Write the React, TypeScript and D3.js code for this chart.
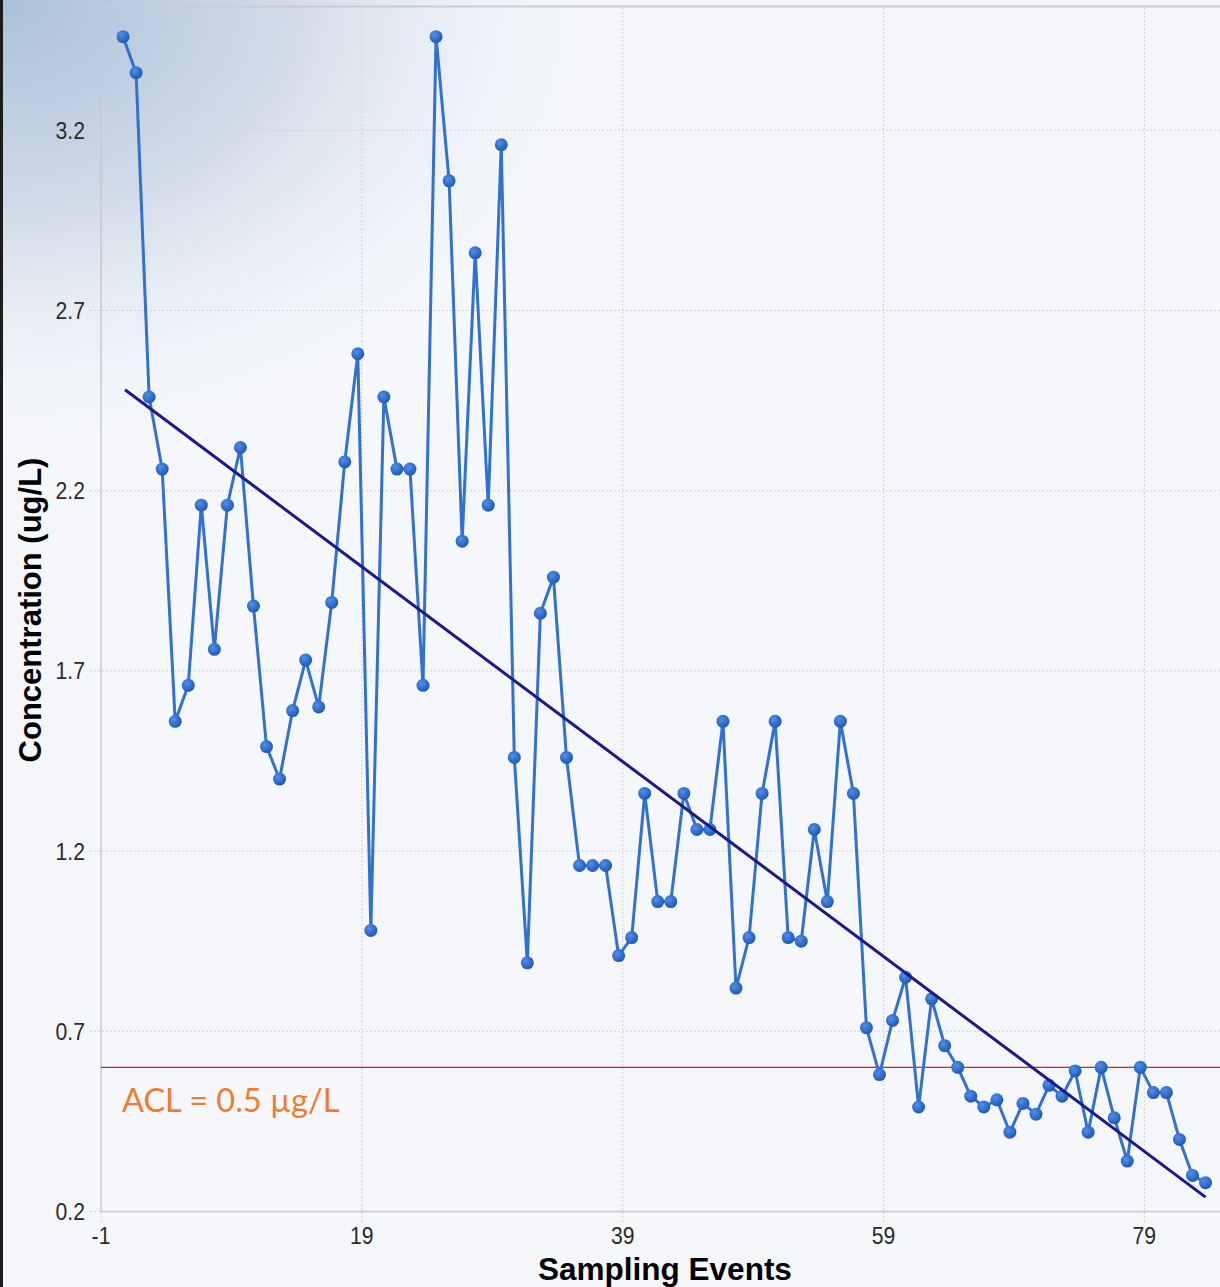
import React from 'react';
import * as d3 from 'd3';

// concentration (ug/L) for each sampling event
const concentration = [
  3.46, 3.36, 2.46, 2.26, 1.56, 1.66, 2.16, 1.76, 2.16, 2.32,
  1.88, 1.49, 1.40, 1.59, 1.73, 1.60, 1.89, 2.28, 2.58, 0.98,
  2.46, 2.26, 2.26, 1.66, 3.46, 3.06, 2.06, 2.86, 2.16, 3.16,
  1.46, 0.89, 1.86, 1.96, 1.46, 1.16, 1.16, 1.16, 0.91, 0.96,
  1.36, 1.06, 1.06, 1.36, 1.26, 1.26, 1.56, 0.82, 0.96, 1.36,
  1.56, 0.96, 0.95, 1.26, 1.06, 1.56, 1.36, 0.71, 0.58, 0.73,
  0.85, 0.49, 0.79, 0.66, 0.60, 0.52, 0.49, 0.51, 0.42, 0.50,
  0.47, 0.55, 0.52, 0.59, 0.42, 0.60, 0.46, 0.34, 0.60, 0.53,
  0.53, 0.40, 0.30, 0.28,
];
const events = concentration.map((_, i) => i + 1);

// linear trend: value at first and last event
const trendEnds = [2.48, 0.24];
const aclLevel = 0.6;

const xTicks = [-1, 19, 39, 59, 79];
const yTicks = [0.2, 0.7, 1.2, 1.7, 2.2, 2.7, 3.2];

const W = 1220;
const H = 1287;
const left = 101;
const top = 6;
const bottom = 1211.5;

// the source plots event n slightly left of its integer position
const shift = -0.31;

const App = () => {
  const x = d3.scaleLinear().domain([-1, 84.8]).range([left, W]);
  const y = d3.scaleLinear().domain([0.2, 3.545]).range([bottom, top]);

  const line = d3.line<number>()
    .x((d, i) => x(events[i] + shift))
    .y(d => y(d));

  const ex = [events[0], events[events.length - 1]];

  const tickFont = '"Liberation Sans", Arial, sans-serif';

  return (
    <svg width={W} height={H} style={{ position: 'absolute', left: 0, top: 0, display: 'block' }}>
      <defs>
        <radialGradient id="corner" cx="0" cy="0" r="1" gradientUnits="userSpaceOnUse"
          gradientTransform="translate(0,0) scale(640,470)">
          <stop offset="0" stopColor="#aac0d9" />
          <stop offset="0.45" stopColor="#d0dbe8" />
          <stop offset="1" stopColor="#f5f7fb" stopOpacity="0" />
        </radialGradient>
        <radialGradient id="dot" cx="0.38" cy="0.35" r="0.7">
          <stop offset="0" stopColor="#4f8fe6" />
          <stop offset="1" stopColor="#1d55b4" />
        </radialGradient>
      </defs>

      <rect width={W} height={H} fill="#f5f7fb" />
      <rect width={W} height={H} fill="url(#corner)" />
      <rect x={0} y={0} width={3} height={H} fill="#1c1c1c" />

      {/* grid */}
      {yTicks.slice(1).map(t => (
        <line key={'gy' + t} x1={90} x2={W} y1={y(t)} y2={y(t)}
          stroke="#cfd1d6" strokeWidth={1} strokeDasharray="2,2" />
      ))}
      {xTicks.slice(1).map(t => (
        <line key={'gx' + t} x1={x(t)} x2={x(t)} y1={top + 2} y2={bottom + 11}
          stroke="#cfd1d6" strokeWidth={1} strokeDasharray="2,2" />
      ))}
      <line x1={90} x2={left} y1={y(0.2)} y2={y(0.2)} stroke="#cfd1d6" strokeDasharray="2,2" />
      <line x1={left} x2={left} y1={bottom} y2={bottom + 11} stroke="#cfd1d6" strokeDasharray="2,2" />

      {/* frame */}
      <line x1={left} x2={W} y1={top + 0.5} y2={top + 0.5} stroke="#c9cbd0" strokeWidth={2} />
      <line x1={left} x2={left} y1={top} y2={bottom} stroke="#c6c8cc" strokeWidth={1.5} />
      <line x1={left} x2={W} y1={bottom} y2={bottom} stroke="#c6c8cc" strokeWidth={1.5} />

      {/* tick labels */}
      {yTicks.map(t => (
        <g key={'ly' + t} transform={`translate(85,${y(t)}) scale(0.9,1)`}>
          <text textAnchor="end" dy="0.36em" fontFamily={tickFont} fontSize={23.5} fill="#2a2a2a">
            {t.toFixed(1)}
          </text>
        </g>
      ))}
      {xTicks.map(t => (
        <g key={'lx' + t} transform={`translate(${x(t)},1244) scale(0.9,1)`}>
          <text textAnchor="middle" fontFamily={tickFont} fontSize={23.5} fill="#2a2a2a">{t}</text>
        </g>
      ))}

      {/* axis titles */}
      <text x={665} y={1280} textAnchor="middle" fontFamily={tickFont} fontWeight="bold"
        fontSize={31.5} fill="#000">Sampling Events</text>
      <text transform={`translate(41,610) rotate(-90)`} textAnchor="middle" fontFamily={tickFont}
        fontWeight="bold" fontSize={31} fill="#000">Concentration (ug/L)</text>

      {/* ACL */}
      <line x1={left} x2={W} y1={y(aclLevel)} y2={y(aclLevel)} stroke="#c0282d" strokeWidth={1.3} />
      <text x={122} y={1112} fontFamily="Lato, 'Open Sans', sans-serif" fontSize={32.5} fill="#ed7d31">
        ACL = 0.5 µg/L
      </text>

      {/* series */}
      <path d={line(concentration) || ''} fill="none" stroke="#3272cf" strokeWidth={3}
        strokeLinejoin="round" />
      {concentration.map((v, i) => (
        <circle key={i} cx={x(events[i] + shift)} cy={y(v)} r={6.5} fill="url(#dot)" />
      ))}

      {/* trend */}
      <line x1={x(ex[0] + shift) + 2} x2={x(ex[1] + shift)} y1={y(trendEnds[0])} y2={y(trendEnds[1])}
        stroke="#1c1a8a" strokeWidth={3} />
    </svg>
  );
};

export default App;
